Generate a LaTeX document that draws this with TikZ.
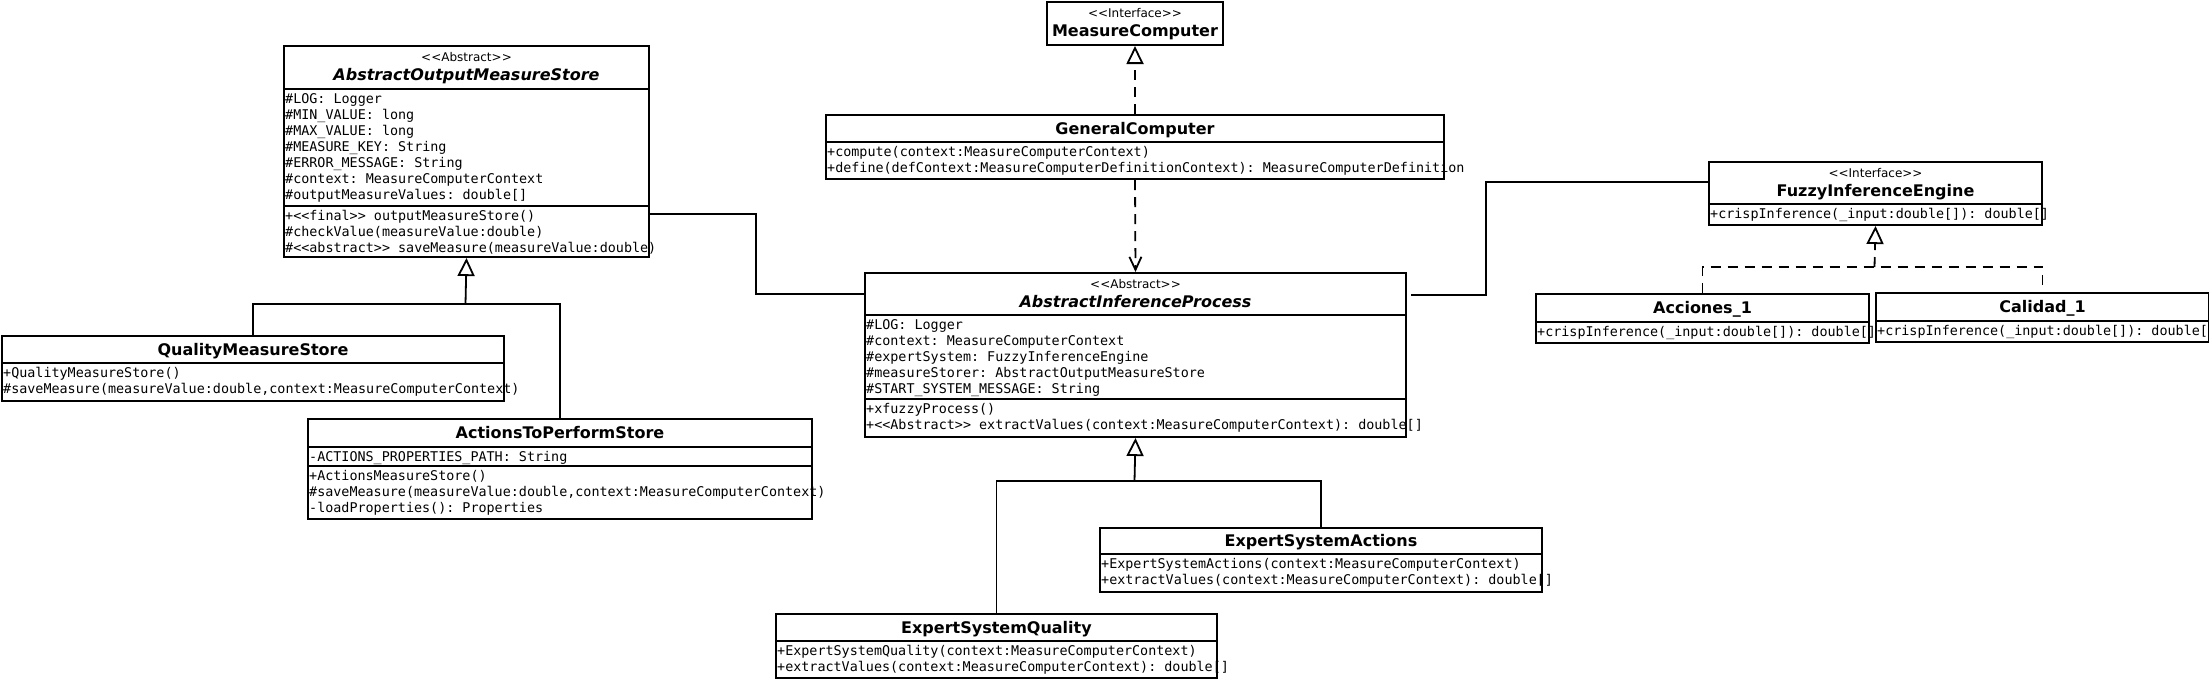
\documentclass[tikz,border=0pt]{standalone}
\usepackage{fontspec}
\setmainfont{DejaVu Sans}
\setmonofont{DejaVu Sans Mono}
\usepackage{tikz}
\usetikzlibrary{arrows.meta}
\newcommand{\mstrut}{\rule{0pt}{14.5pt}}
\tikzstyle{classbox}=[draw,line width=2pt,inner sep=0pt,anchor=north west]
\tikzstyle{divider}=[line width=2pt]
\tikzstyle{stereo}=[inner sep=0pt,anchor=base,font=\fontsize{12}{14}\selectfont]
\tikzstyle{classname}=[inner sep=0pt,anchor=base,font=\bfseries\fontsize{16}{18}\selectfont]
\tikzstyle{members}=[inner sep=0pt,anchor=north west,align=left,font=\ttfamily\fontsize{13.4}{16}\selectfont]
\tikzstyle{assoc}=[line width=1.8pt]
\tikzstyle{gen}=[assoc,-{Triangle[open,length=18pt,width=17pt]}]
\tikzstyle{realize}=[gen,dash pattern=on 10pt off 7pt]
\tikzstyle{dep}=[assoc,dash pattern=on 10pt off 7pt,-{Straight Barb[length=13pt,width=12pt]}]

\begin{document}
\begin{tikzpicture}[x=1pt,y=-1pt]
    \useasboundingbox (0,0) rectangle (2209,678);

    % AbstractOutputMeasureStore
    \node[classbox,minimum width=365pt,minimum height=211pt] (aoms) at (283,45) {};
    \draw[divider] (aoms.west |- 0,89) -- (aoms.east |- 0,89);
    \draw[divider] (aoms.west |- 0,206) -- (aoms.east |- 0,206);
    \node[stereo] (aoms-st) at (aoms.north |- 0,61) {{<}{<}Abstract{>}{>}};
    \node[classname] (aoms-n) at (aoms.north |- 0,80.5) {\itshape AbstractOutputMeasureStore};
    \node[members] (aoms-a) at (285,89) {\mstrut\#LOG: Logger\\\#MIN\_VALUE: long\\\#MAX\_VALUE: long\\\#MEASURE\_KEY: String\\\#ERROR\_MESSAGE: String\\\#context: MeasureComputerContext\\\#outputMeasureValues: double[]};
    \node[members] (aoms-m) at (285,206) {\mstrut+<<final>> outputMeasureStore()\\\#checkValue(measureValue:double)\\\#<<abstract>> saveMeasure(measureValue:double)};

    % QualityMeasureStore
    \node[classbox,minimum width=502pt,minimum height=65pt] (qms) at (1,335) {};
    \draw[divider] (qms.west |- 0,363) -- (qms.east |- 0,363);
    \node[classname] (qms-n) at (qms.north |- 0,355) {QualityMeasureStore};
    \node[members] (qms-m) at (3,363) {\mstrut+QualityMeasureStore()\\\#saveMeasure(measureValue:double,context:MeasureComputerContext)};

    % ActionsToPerformStore
    \node[classbox,minimum width=504pt,minimum height=100pt] (atps) at (307,418) {};
    \draw[divider] (atps.west |- 0,447) -- (atps.east |- 0,447);
    \draw[divider] (atps.west |- 0,466) -- (atps.east |- 0,466);
    \node[classname] (atps-n) at (atps.north |- 0,438.5) {ActionsToPerformStore};
    \node[members] (atps-a) at (309,447) {\rule{0pt}{14pt}-ACTIONS\_PROPERTIES\_PATH: String};
    \node[members] (atps-m) at (309,466) {\mstrut+ActionsMeasureStore()\\\#saveMeasure(measureValue:double,context:MeasureComputerContext)\\-loadProperties(): Properties};

    % MeasureComputer
    \node[classbox,minimum width=176pt,minimum height=43pt] (mc) at (1046,1) {};
    \node[stereo] (mc-st) at (mc.north |- 0,17) {{<}{<}Interface{>}{>}};
    \node[classname] (mc-n) at (mc.north |- 0,36.5) {MeasureComputer};

    % GeneralComputer
    \node[classbox,minimum width=618pt,minimum height=64pt] (gc) at (825,114) {};
    \draw[divider] (gc.west |- 0,142) -- (gc.east |- 0,142);
    \node[classname] (gc-n) at (gc.north |- 0,134) {GeneralComputer};
    \node[members] (gc-m) at (827,142) {\mstrut+compute(context:MeasureComputerContext)\\+define(defContext:MeasureComputerDefinitionContext): MeasureComputerDefinition};

    % AbstractInferenceProcess
    \node[classbox,minimum width=541pt,minimum height=164pt] (aip) at (864,272) {};
    \draw[divider] (aip.west |- 0,315) -- (aip.east |- 0,315);
    \draw[divider] (aip.west |- 0,399) -- (aip.east |- 0,399);
    \node[stereo] (aip-st) at (aip.north |- 0,288.5) {{<}{<}Abstract{>}{>}};
    \node[classname] (aip-n) at (aip.north |- 0,307.5) {\itshape AbstractInferenceProcess};
    \node[members] (aip-a) at (866,315) {\mstrut\#LOG: Logger\\\#context: MeasureComputerContext\\\#expertSystem: FuzzyInferenceEngine\\\#measureStorer: AbstractOutputMeasureStore\\\#START\_SYSTEM\_MESSAGE: String};
    \node[members] (aip-m) at (866,399) {\mstrut+xfuzzyProcess()\\+<<Abstract>> extractValues(context:MeasureComputerContext): double[]};

    % FuzzyInferenceEngine
    \node[classbox,minimum width=333pt,minimum height=63pt] (fie) at (1708,161) {};
    \draw[divider] (fie.west |- 0,204) -- (fie.east |- 0,204);
    \node[stereo] (fie-st) at (fie.north |- 0,177) {{<}{<}Interface{>}{>}};
    \node[classname] (fie-n) at (fie.north |- 0,196) {FuzzyInferenceEngine};
    \node[members] (fie-m) at (1710,204) {\rule{0pt}{14pt}+crispInference(\_input:double[]): double[]};

    % Acciones_1
    \node[classbox,minimum width=333pt,minimum height=49pt] (acc) at (1535,293) {};
    \draw[divider] (acc.west |- 0,322) -- (acc.east |- 0,322);
    \node[classname] (acc-n) at (acc.north |- 0,313.5) {Acciones\_1};
    \node[members] (acc-m) at (1537,322) {\rule{0pt}{14pt}+crispInference(\_input:double[]): double[]};

    % Calidad_1
    \node[classbox,minimum width=333pt,minimum height=49pt] (cal) at (1875,292) {};
    \draw[divider] (cal.west |- 0,321) -- (cal.east |- 0,321);
    \node[classname] (cal-n) at (cal.north |- 0,312.5) {Calidad\_1};
    \node[members] (cal-m) at (1877,321) {\rule{0pt}{14pt}+crispInference(\_input:double[]): double[]};

    % ExpertSystemActions
    \node[classbox,minimum width=442pt,minimum height=64pt] (esa) at (1099,527) {};
    \draw[divider] (esa.west |- 0,554) -- (esa.east |- 0,554);
    \node[classname] (esa-n) at (esa.north |- 0,546.5) {ExpertSystemActions};
    \node[members] (esa-m) at (1101,554) {\mstrut+ExpertSystemActions(context:MeasureComputerContext)\\+extractValues(context:MeasureComputerContext): double[]};

    % ExpertSystemQuality
    \node[classbox,minimum width=441pt,minimum height=64pt] (esq) at (775,613) {};
    \draw[divider] (esq.west |- 0,641) -- (esq.east |- 0,641);
    \node[classname] (esq-n) at (esq.north |- 0,633) {ExpertSystemQuality};
    \node[members] (esq-m) at (777,641) {\mstrut+ExpertSystemQuality(context:MeasureComputerContext)\\+extractValues(context:MeasureComputerContext): double[]};

    % inheritance and links
    \coordinate (j1) at (465.5,304);
    \draw[gen] (j1) -- (aoms.south);
    \draw[assoc] (qms.north) |- (j1) -| (atps.north);

    \coordinate (k1) at (756,214);
    \coordinate (k2) at (756,294);
    \draw[assoc] (aoms.east |- k1) -- (k1) -- (k2) -- (aip.west |- k2);

    \draw[realize] (gc.north) -- (mc.south);
    \draw[dep] (gc.south) -- (aip.north);

    \coordinate (k3) at (1486,295);
    \coordinate (k4) at (1486,182);
    \draw[assoc] ([xshift=4pt]aip.east |- k3) -- (k3) -- (k4) -- (fie.west |- k4);

    \coordinate (j2) at (1874.5,267);
    \draw[realize] (j2) -- (fie.south);
    \draw[assoc,dash pattern=on 10pt off 7pt] (acc.north) |- (j2) -| (cal.north);

    \coordinate (j3) at (1134.5,481);
    \draw[gen] (j3) -- (aip.south);
    \draw[assoc] (esq.north) |- (j3) -| (esa.north);
\end{tikzpicture}
\end{document}
